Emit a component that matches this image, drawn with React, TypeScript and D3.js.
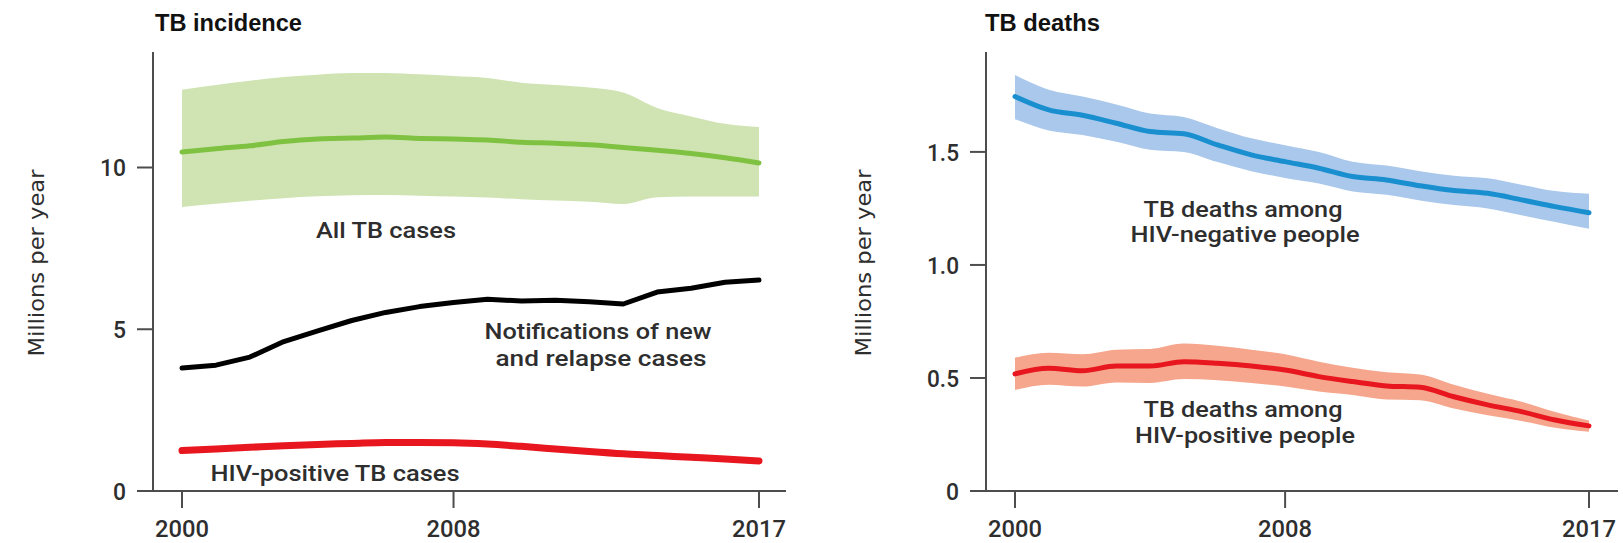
import React from "react";
import * as d3 from "d3";

// ---------- DATA ----------
const years = [2000, 2001, 2002, 2003, 2004, 2005, 2006, 2007, 2008, 2009, 2010, 2011, 2012, 2013, 2014, 2015, 2016, 2017];
const xTickYears = [2000, 2008, 2017];

// TB incidence (millions per year)
const allTB = [10.48, 10.58, 10.67, 10.8, 10.88, 10.91, 10.94, 10.9, 10.88, 10.85, 10.78, 10.75, 10.7, 10.62, 10.53, 10.43, 10.3, 10.14];
const allTBHi = [12.4, 12.55, 12.68, 12.8, 12.87, 12.92, 12.92, 12.88, 12.83, 12.77, 12.62, 12.55, 12.47, 12.32, 11.84, 11.58, 11.35, 11.25];
const allTBLo = [8.78, 8.88, 8.97, 9.05, 9.11, 9.14, 9.15, 9.13, 9.1, 9.07, 9.02, 8.98, 8.94, 8.87, 9.08, 9.1, 9.1, 9.1];
const notifications = [3.8, 3.89, 4.14, 4.62, 4.95, 5.27, 5.52, 5.7, 5.83, 5.93, 5.87, 5.9, 5.85, 5.78, 6.15, 6.27, 6.45, 6.52];
const hivPosCases = [1.25, 1.3, 1.35, 1.4, 1.44, 1.47, 1.5, 1.5, 1.49, 1.45, 1.38, 1.3, 1.22, 1.15, 1.1, 1.04, 0.99, 0.93];
const incidenceTicks = [0, 5, 10];

// TB deaths (millions per year)
const deathsNeg = [1.745, 1.686, 1.662, 1.627, 1.59, 1.58, 1.531, 1.487, 1.457, 1.428, 1.391, 1.376, 1.35, 1.329, 1.317, 1.288, 1.258, 1.231];
const deathsNegHi = [1.84, 1.775, 1.745, 1.71, 1.67, 1.655, 1.605, 1.56, 1.53, 1.5, 1.457, 1.44, 1.415, 1.395, 1.383, 1.355, 1.327, 1.315];
const deathsNegLo = [1.645, 1.595, 1.575, 1.545, 1.51, 1.5, 1.455, 1.415, 1.385, 1.36, 1.325, 1.31, 1.285, 1.265, 1.25, 1.22, 1.19, 1.16];
const deathsPos = [0.518, 0.543, 0.532, 0.553, 0.553, 0.572, 0.565, 0.553, 0.535, 0.506, 0.484, 0.465, 0.459, 0.417, 0.381, 0.351, 0.314, 0.288];
const deathsPosHi = [0.59, 0.612, 0.605, 0.625, 0.628, 0.652, 0.642, 0.625, 0.605, 0.572, 0.545, 0.525, 0.515, 0.47, 0.43, 0.395, 0.35, 0.312];
const deathsPosLo = [0.447, 0.47, 0.462, 0.48, 0.478, 0.495, 0.49, 0.478, 0.462, 0.44, 0.425, 0.405, 0.402, 0.365, 0.335, 0.31, 0.28, 0.262];
const deathsTicks = [0, 0.5, 1.0, 1.5];

// ---------- STYLE ----------
const LABEL_FONT = "Roboto, 'Liberation Sans', sans-serif";
const TEXT = "#2e2e2e";
const AXIS = "#4d4d4d";

function band(xs: number[], lo: number[], hi: number[], x: any, y: any) {
  const data = xs.map((yr, i) => ({ yr, lo: lo[i], hi: hi[i] }));
  return d3
    .area<any>()
    .x((d) => x(d.yr))
    .y0((d) => y(d.lo))
    .y1((d) => y(d.hi))
    .curve(d3.curveMonotoneX)(data) as string;
}

function line(xs: number[], vals: number[], x: any, y: any, curve: any) {
  const data = xs.map((yr, i) => ({ yr, v: vals[i] }));
  return d3
    .line<any>()
    .x((d) => x(d.yr))
    .y((d) => y(d.v))
    .curve(curve)(data) as string;
}

function Axes({ x, y, ticks, fmt, axisLeftX, axisRightX }: any) {
  const [y0, yTop] = y.range();
  const ax = x.range()[0] - 29;
  return (
    <g>
      <line x1={ax} x2={ax} y1={yTop} y2={y0} stroke={AXIS} strokeWidth={2} />
      <line x1={axisLeftX} x2={axisRightX} y1={y0} y2={y0} stroke={AXIS} strokeWidth={2} />
      {ticks.map((t: number) => {
        const s = fmt(t);
        return (
          <g key={"y" + t}>
            <line x1={ax - 16} x2={ax} y1={y(t)} y2={y(t)} stroke={AXIS} strokeWidth={2} />
            <text
              x={ax - 27}
              y={y(t)}
              dy="0.36em"
              textAnchor="end"
              fontFamily={LABEL_FONT}
              fontWeight={500}
              fontSize={24}
              fill={TEXT}
              textLength={s.replace(".", "").length * 13 + (s.includes(".") ? 6 : 0)}
              lengthAdjust="spacingAndGlyphs"
            >
              {s}
            </text>
          </g>
        );
      })}
      {xTickYears.map((yr) => (
        <g key={"x" + yr}>
          <line x1={x(yr)} x2={x(yr)} y1={y0} y2={y0 + 17} stroke={AXIS} strokeWidth={2} />
          <text
            x={x(yr)}
            y={537}
            textAnchor="middle"
            fontFamily={LABEL_FONT}
            fontWeight={500}
            fontSize={24}
            fill={TEXT}
            textLength={54}
            lengthAdjust="spacingAndGlyphs"
          >
            {yr}
          </text>
        </g>
      ))}
    </g>
  );
}

function Label({ x, y, children, w, size = 22 }: any) {
  return (
    <text
      x={x}
      y={y}
      textAnchor="middle"
      fontFamily={LABEL_FONT}
      fontWeight={500}
      fontSize={size}
      fill={TEXT}
      textLength={w}
      lengthAdjust="spacingAndGlyphs"
    >
      {children}
    </text>
  );
}

export default function App() {
  const xL = d3.scaleLinear().domain([2000, 2017]).range([182, 759]);
  const yL = d3.scaleLinear().domain([0, 13.57]).range([491, 52]);
  const xR = d3.scaleLinear().domain([2000, 2017]).range([1015, 1589]);
  const yR = d3.scaleLinear().domain([0, 1.942]).range([491, 52]);

  return (
    <svg
      width={1623}
      height={543}
      style={{ position: "absolute", left: 0, top: 0, display: "block", background: "#fff" }}
    >
      <rect x={0} y={0} width={1623} height={543} fill="#ffffff" />

      {/* ---------- LEFT: TB incidence ---------- */}
      <text
        x={155}
        y={31}
        fontFamily="'Liberation Sans', Arial, sans-serif"
        fontWeight={700}
        fontSize={23}
        fill="#111"
        textLength={147}
        lengthAdjust="spacingAndGlyphs"
      >
        TB incidence
      </text>
      <text
        transform="translate(44,263) rotate(-90)"
        textAnchor="middle"
        fontFamily="'DejaVu Sans', sans-serif"
        fontSize={22}
        fill={TEXT}
        textLength={187}
        lengthAdjust="spacingAndGlyphs"
      >
        Millions per year
      </text>

      <path d={band(years, allTBLo, allTBHi, xL, yL)} fill="#d0e4b3" />
      <path d={line(years, allTB, xL, yL, d3.curveMonotoneX)} fill="none" stroke="#7fc241" strokeWidth={5} strokeLinecap="round" />
      <path d={line(years, notifications, xL, yL, d3.curveLinear)} fill="none" stroke="#000" strokeWidth={5} strokeLinecap="round" strokeLinejoin="round" />
      <path d={line(years, hivPosCases, xL, yL, d3.curveMonotoneX)} fill="none" stroke="#e8161e" strokeWidth={7} strokeLinecap="round" />

      <Axes x={xL} y={yL} ticks={incidenceTicks} fmt={(t: number) => String(t)} axisLeftX={137} axisRightX={786} />

      <Label x={386} y={238} w={140}>All TB cases</Label>
      <Label x={598} y={339} w={227}>Notifications of new</Label>
      <Label x={601} y={366} w={211}>and relapse cases</Label>
      <Label x={335} y={481} w={249}>HIV-positive TB cases</Label>

      {/* ---------- RIGHT: TB deaths ---------- */}
      <text
        x={985}
        y={31}
        fontFamily="'Liberation Sans', Arial, sans-serif"
        fontWeight={700}
        fontSize={23}
        fill="#111"
        textLength={115}
        lengthAdjust="spacingAndGlyphs"
      >
        TB deaths
      </text>
      <text
        transform="translate(871,263) rotate(-90)"
        textAnchor="middle"
        fontFamily="'DejaVu Sans', sans-serif"
        fontSize={22}
        fill={TEXT}
        textLength={187}
        lengthAdjust="spacingAndGlyphs"
      >
        Millions per year
      </text>

      <path d={band(years, deathsNegLo, deathsNegHi, xR, yR)} fill="#a9c8eb" />
      <path d={line(years, deathsNeg, xR, yR, d3.curveMonotoneX)} fill="none" stroke="#1a8fcf" strokeWidth={5} strokeLinecap="round" />
      <path d={band(years, deathsPosLo, deathsPosHi, xR, yR)} fill="#f5a68c" />
      <path d={line(years, deathsPos, xR, yR, d3.curveMonotoneX)} fill="none" stroke="#e8161e" strokeWidth={5} strokeLinecap="round" />

      <Axes
        x={xR}
        y={yR}
        ticks={deathsTicks}
        fmt={(t: number) => (t === 0 ? "0" : d3.format(".1f")(t))}
        axisLeftX={970}
        axisRightX={1618}
      />

      <Label x={1243} y={217} w={199}>TB deaths among</Label>
      <Label x={1245} y={242} w={229}>HIV-negative people</Label>
      <Label x={1243} y={417} w={199}>TB deaths among</Label>
      <Label x={1245} y={443} w={220}>HIV-positive people</Label>
    </svg>
  );
}
